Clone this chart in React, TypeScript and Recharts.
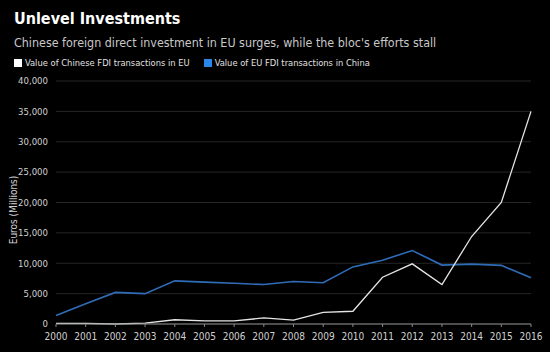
import React from "react";
import { LineChart, Line, XAxis, YAxis, CartesianGrid } from "recharts";

const YEARS = ["2000", "2001", "2002", "2003", "2004", "2005", "2006", "2007", "2008", "2009", "2010", "2011", "2012", "2013", "2014", "2015", "2016"];
const CHINA_IN_EU = [100, 100, 0, 150, 700, 500, 500, 1000, 650, 1900, 2100, 7700, 9900, 6500, 14400, 20000, 35000];
const EU_IN_CHINA = [1400, 3350, 5200, 5000, 7100, 6900, 6700, 6500, 7000, 6800, 9400, 10500, 12100, 9700, 9850, 9650, 7600];
const Y_TICKS = [0, 5000, 10000, 15000, 20000, 25000, 30000, 35000, 40000];

const FONT = "'DejaVu Sans Condensed', 'Liberation Sans Narrow', 'DejaVu Sans', sans-serif";

export default function App() {
  const data = YEARS.map((year, i) => ({ year, china: CHINA_IN_EU[i], eu: EU_IN_CHINA[i] }));

  return (
    <div style={{ position: "absolute", left: 0, top: 0, width: 550, height: 352, background: "#000", fontFamily: FONT, overflow: "hidden" }}>
      <div style={{ position: "absolute", left: 14, top: 9, color: "#fff", fontSize: 16, fontWeight: "bold", whiteSpace: "nowrap" }}>
        Unlevel Investments
      </div>
      <div style={{ position: "absolute", left: 14, top: 35, color: "#c8c8c8", fontSize: 12.4, whiteSpace: "nowrap" }}>
        Chinese foreign direct investment in EU surges, while the bloc's efforts stall
      </div>
      <div style={{ position: "absolute", left: 14, top: 57, color: "#e0e0e0", fontSize: 9.3, display: "flex", alignItems: "center", whiteSpace: "nowrap" }}>
        <span style={{ width: 8, height: 8, background: "#fff", display: "inline-block", marginRight: 3 }} />
        <span>Value of Chinese FDI transactions in EU</span>
        <span style={{ width: 8, height: 8, background: "#2a86e8", display: "inline-block", marginLeft: 14, marginRight: 3 }} />
        <span>Value of EU FDI transactions in China</span>
      </div>
      <div style={{ position: "absolute", left: 13, top: 210, color: "#d0d0d0", fontSize: 10, whiteSpace: "nowrap", transform: "translate(-50%, -50%) rotate(-90deg)" }}>
        Euros (Millions)
      </div>
      <LineChart width={550} height={352} data={data} margin={{ top: 81, right: 19, bottom: 6, left: 0 }}>
        <CartesianGrid vertical={false} stroke="#262626" />
        <XAxis dataKey="year" stroke="#888" tickSize={3} tickMargin={6} height={22}
          tick={{ fontSize: 10, fill: "#d0d0d0", fontFamily: FONT }} interval={0} />
        <YAxis width={56} domain={[0, 40000]} ticks={Y_TICKS} axisLine={false} tickLine={false}
          tickFormatter={(v: number) => v.toLocaleString("en-US")}
          tick={{ fontSize: 9.5, fill: "#d0d0d0", fontFamily: FONT }} />
        <Line dataKey="eu" stroke="#2f6db8" strokeWidth={1.6} dot={false} isAnimationActive={false} />
        <Line dataKey="china" stroke="#e6e6e6" strokeWidth={1.3} dot={false} isAnimationActive={false} />
      </LineChart>
    </div>
  );
}
